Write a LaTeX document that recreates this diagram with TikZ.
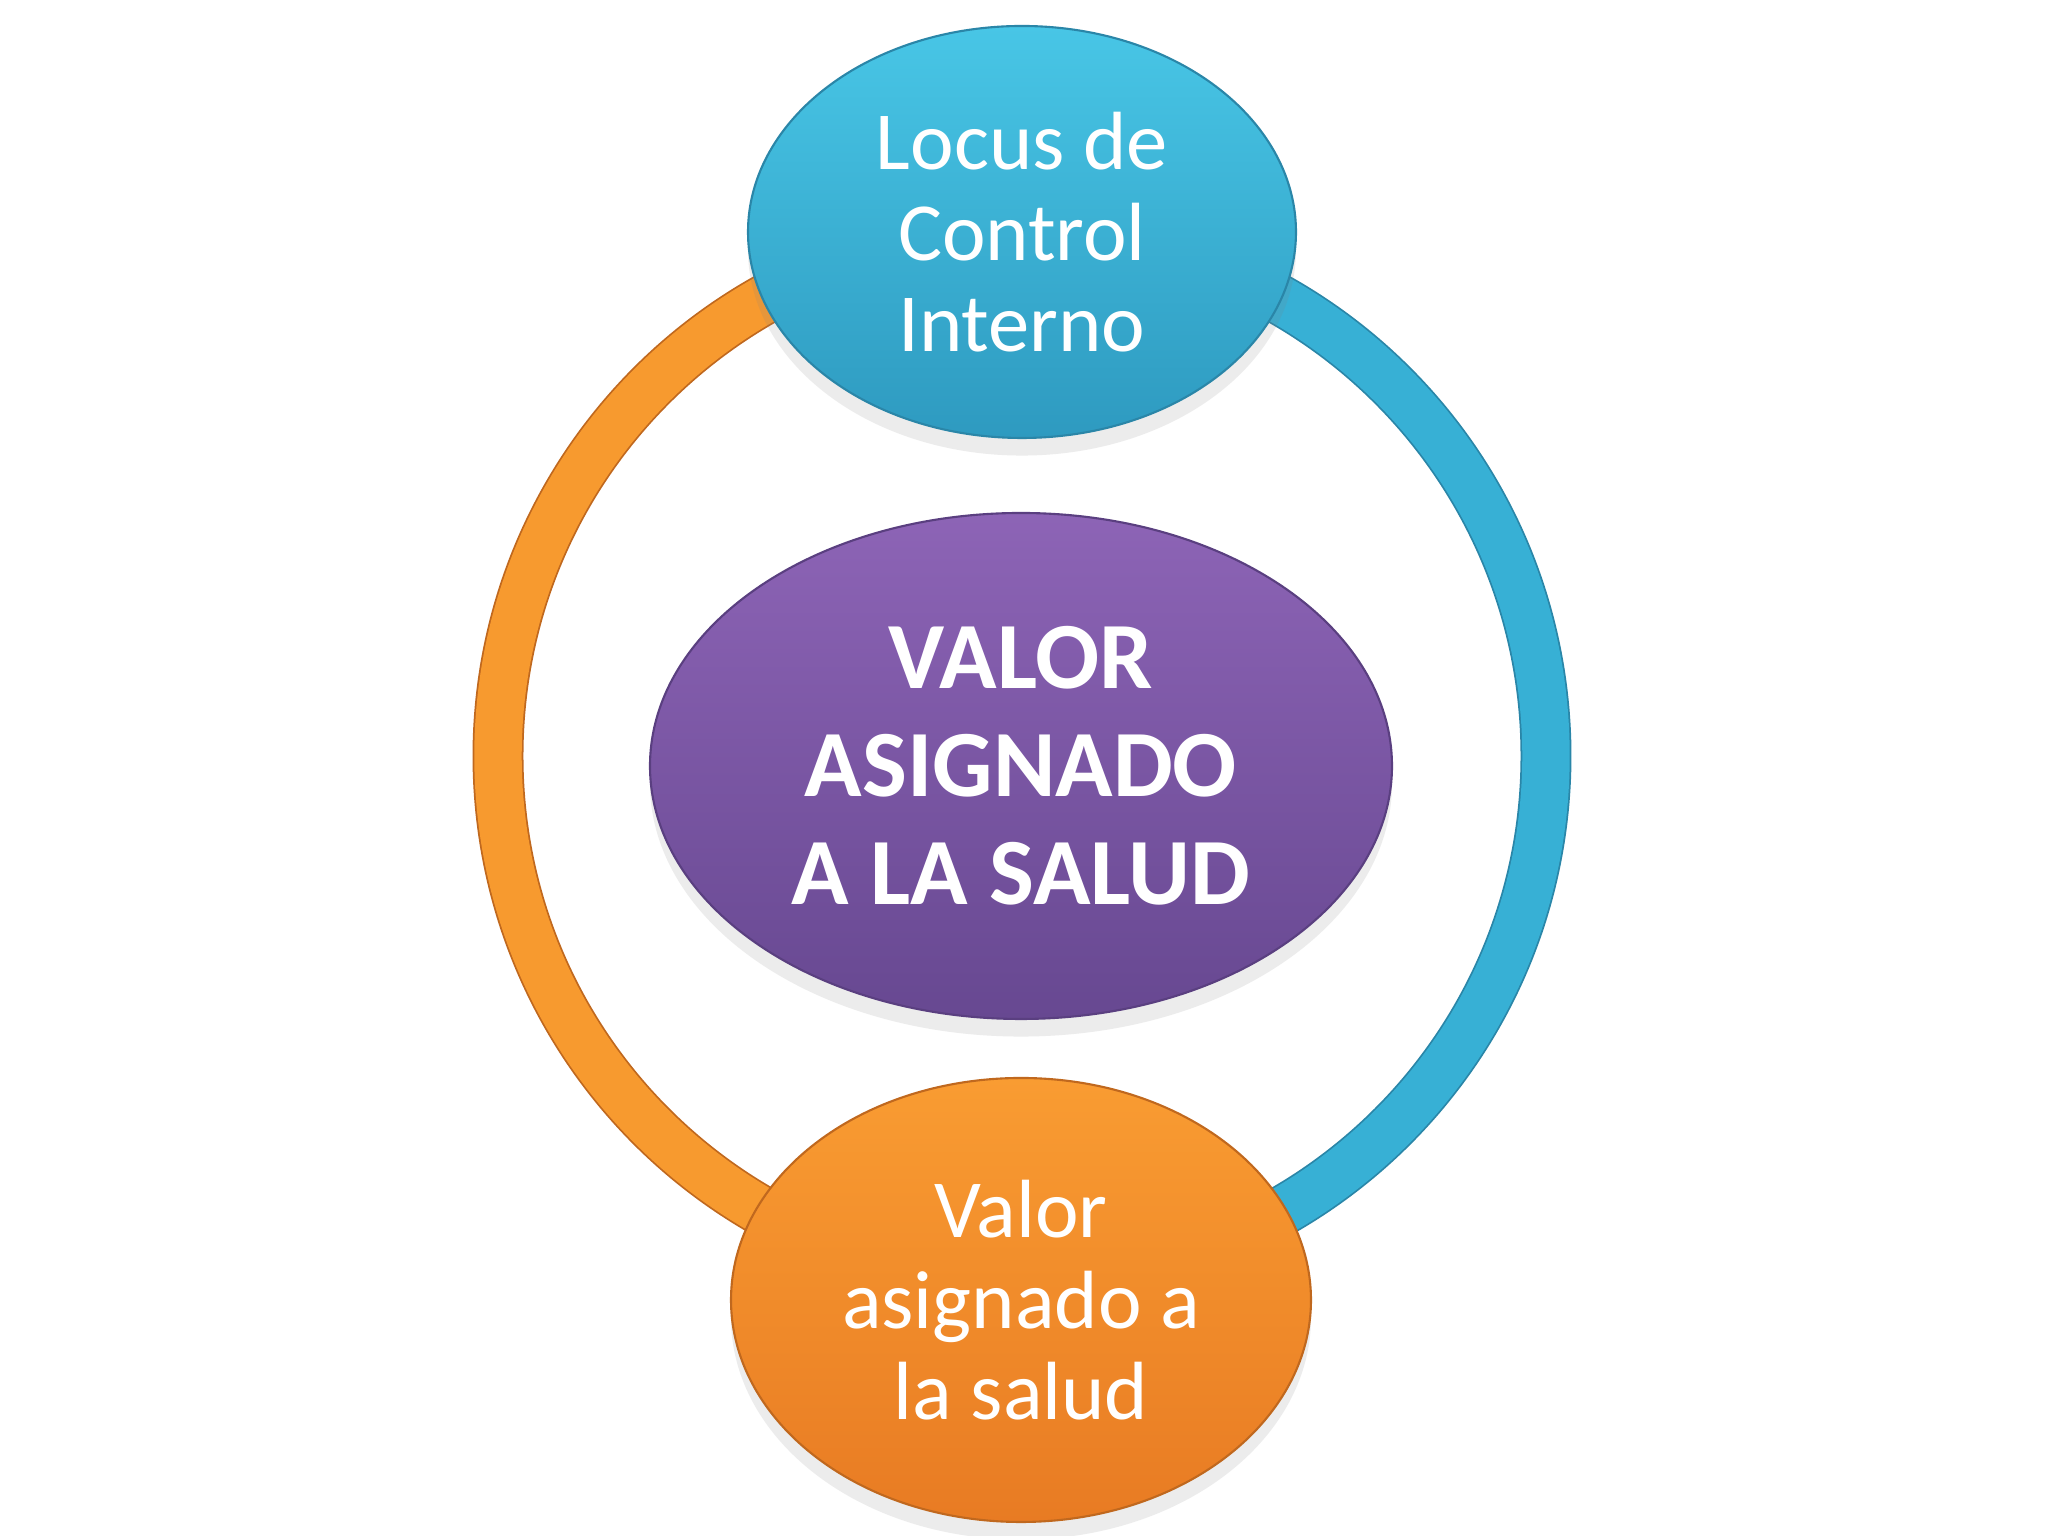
\documentclass[tikz,border=0pt]{standalone}
\usepackage{fontspec}
\setmainfont{Carlito}
\usetikzlibrary{shapes.geometric,backgrounds,shadows}

\definecolor{cyantop}{HTML}{48C6E6}
\definecolor{cyanbot}{HTML}{2E9AC0}
\definecolor{cyanline}{HTML}{2A86A8}
\definecolor{violettop}{HTML}{8D64B6}
\definecolor{violetbot}{HTML}{674891}
\definecolor{violetline}{HTML}{5A3F80}
\definecolor{ambertop}{HTML}{F99C32}
\definecolor{amberbot}{HTML}{E87B23}
\definecolor{amberline}{HTML}{C0681E}
\definecolor{ringamber}{HTML}{F79A2F}
\definecolor{ringcyan}{HTML}{37B0D5}

\tikzset{
  bubble/.style={shape=ellipse, inner sep=0pt, line width=0.6pt,
    draw=#1line, top color=#1top, bottom color=#1bot,
    text=white, align=center, font=\fontsize{23.5}{25.8}\selectfont,
    drop shadow={opacity=0.15, shadow xshift=0pt, shadow yshift=-5pt}},
  hoop/.style={line width=0.5pt, draw=#1line, double=ring#1, double distance=13.5pt}
}

\begin{document}
\begin{tikzpicture}
\useasboundingbox (0,0) rectangle (20.48,15.36);

\node[bubble=cyan, minimum width=5.48cm, minimum height=4.12cm](locus) at (10.22,13.04) {Locus de\\Control\\Interno};
\node[bubble=violet, minimum width=7.42cm, minimum height=5.06cm, font=\fontsize{27}{30.8}\selectfont\bfseries](valor) at (10.21,7.70) {VALOR\\ASIGNADO\\A LA SALUD};
\node[bubble=amber, minimum width=5.80cm, minimum height=4.44cm](salud) at (10.21,2.36) {Valor\\asignado a\\la salud};

\begin{scope}[on background layer]
\fill[white] (0,0) rectangle (20.48,15.36);
\draw[hoop=amber] (locus.center) arc[start angle=90, end angle=270, radius=5.24];
\draw[hoop=cyan] (locus.center) arc[start angle=90, end angle=-90, radius=5.24];
\end{scope}
\end{tikzpicture}
\end{document}
